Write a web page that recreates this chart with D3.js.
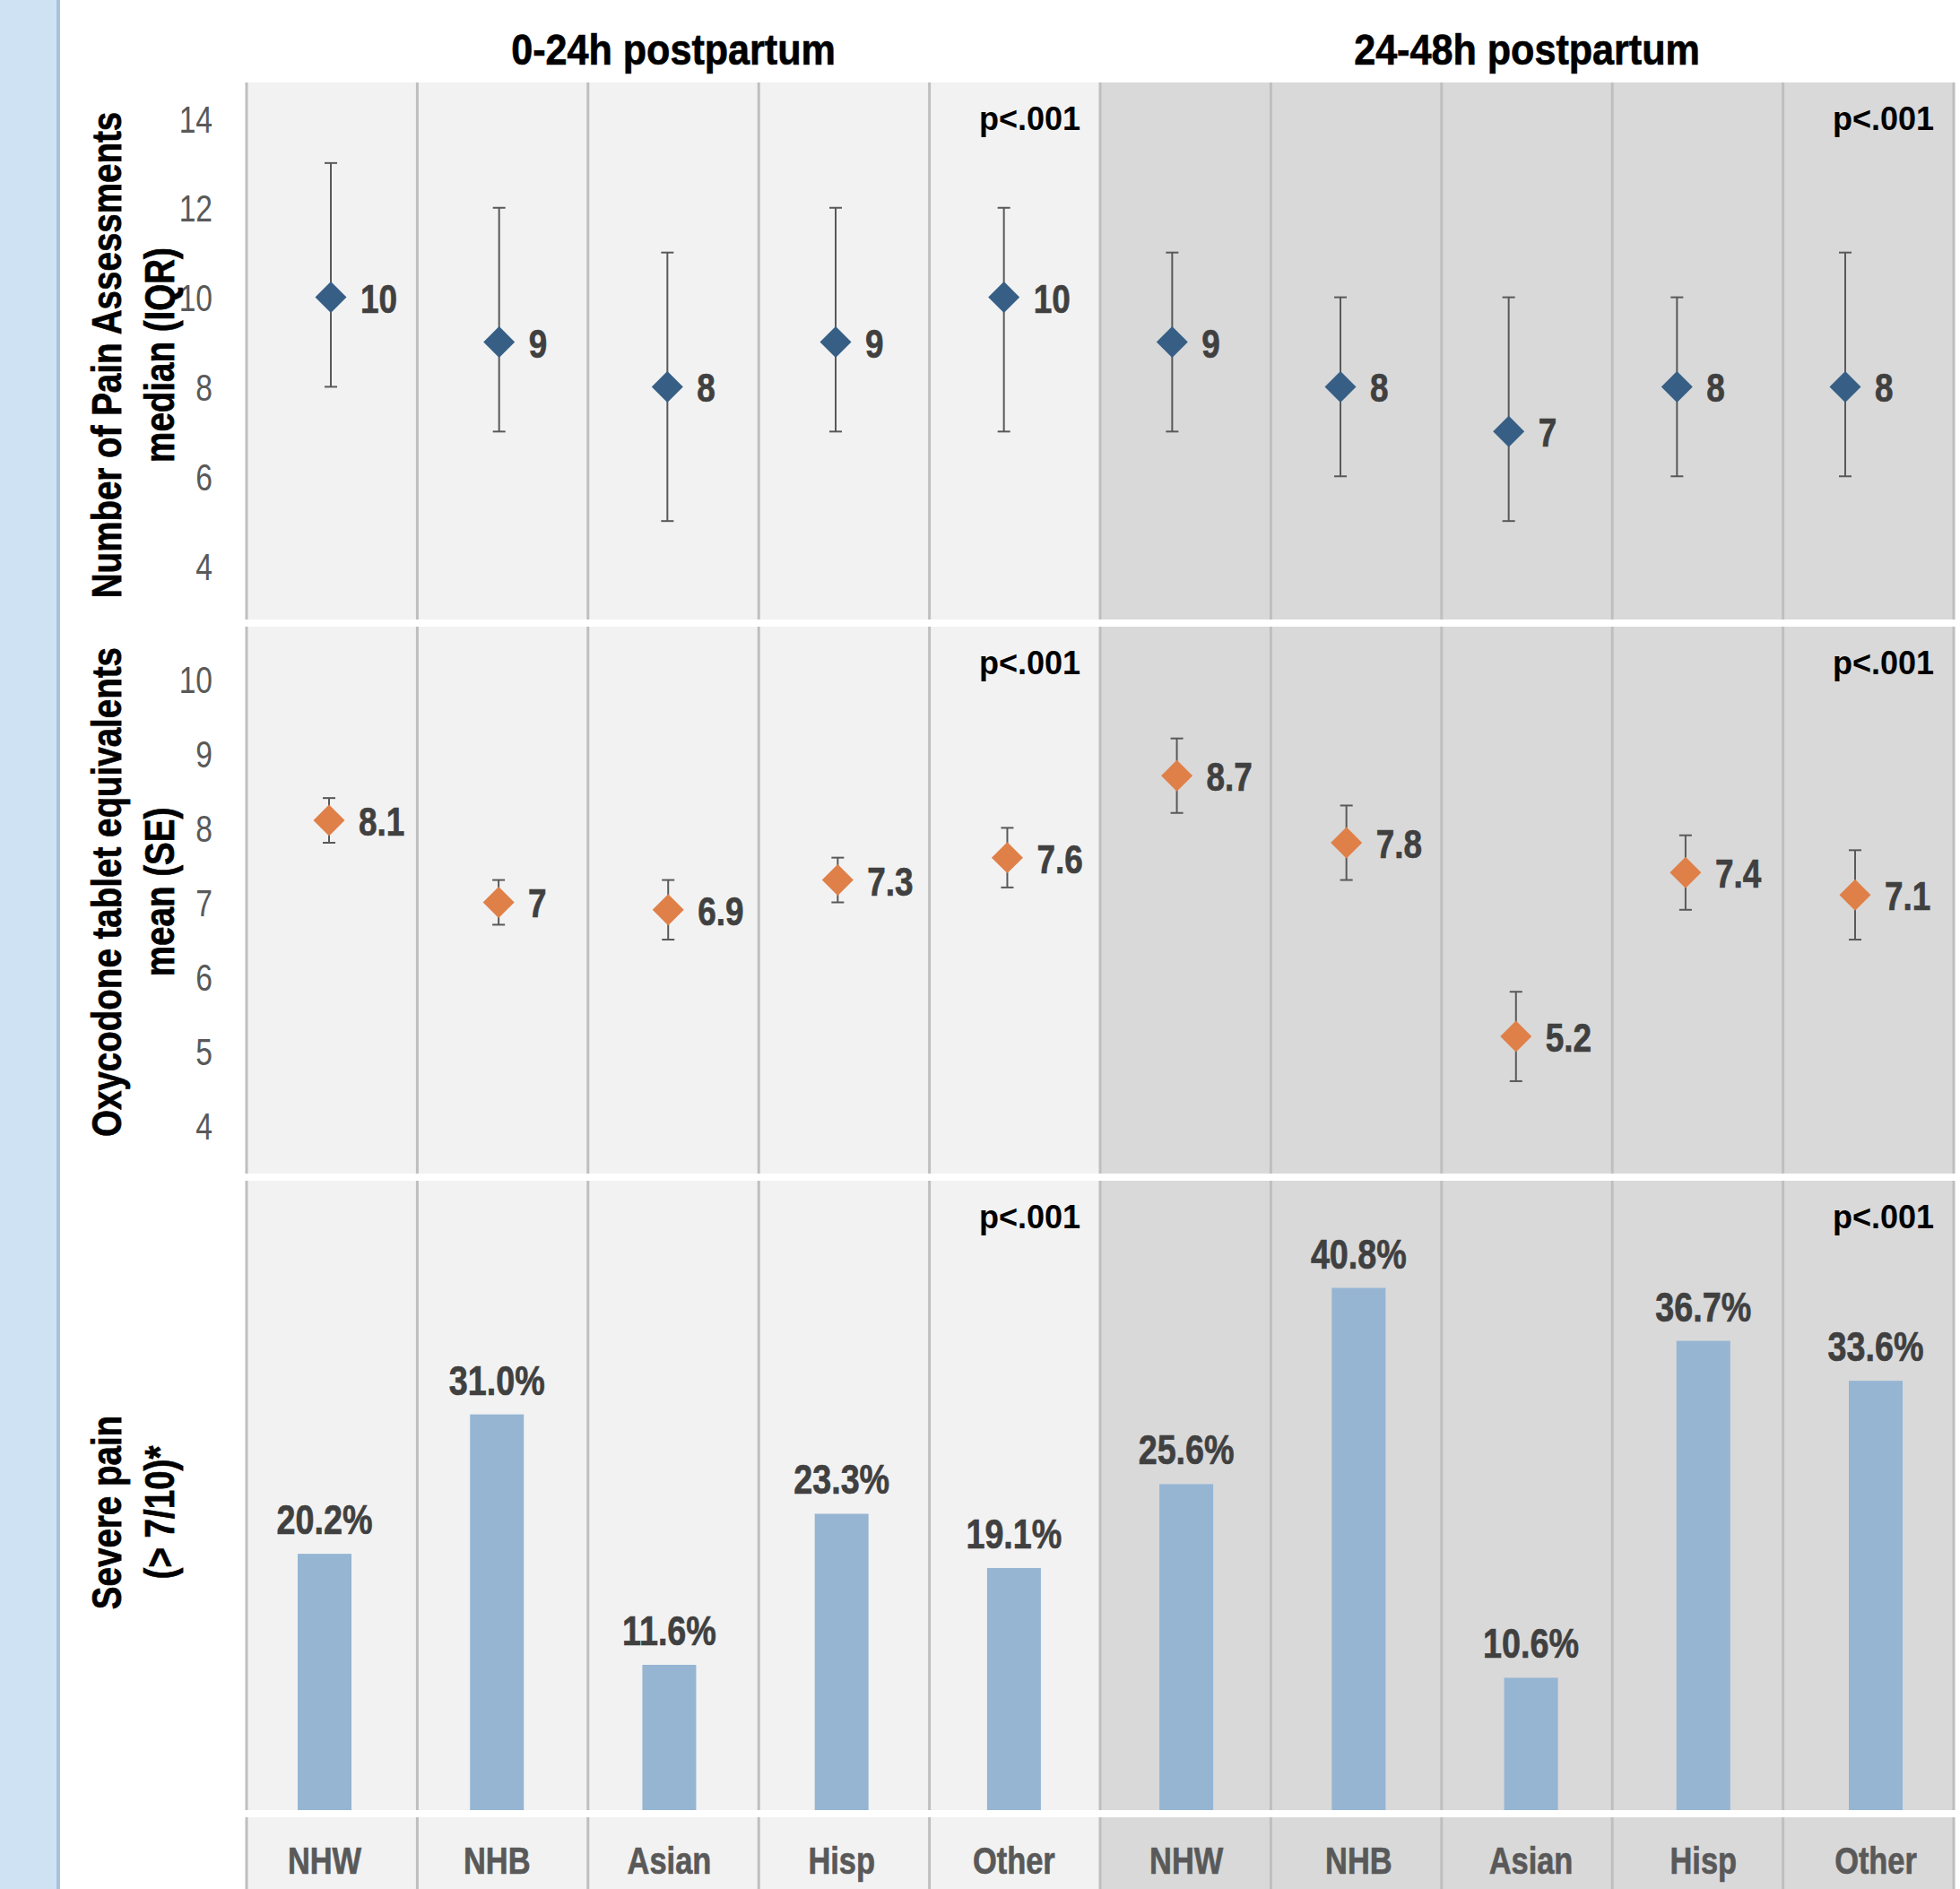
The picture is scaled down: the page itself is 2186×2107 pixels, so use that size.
<!DOCTYPE html>
<html>
<head>
<meta charset="utf-8">
<script src="https://cdn.jsdelivr.net/npm/d3@7"></script>
<style>
  html, body { margin: 0; padding: 0; background: #fff; }
  svg { display: block; }
</style>
</head>
<body>
<svg id="chart" width="2186" height="2107"></svg>
<script>
// ---- data ----
const periods = ["0-24h postpartum", "24-48h postpartum"];
const groups = ["NHW", "NHB", "Asian", "Hisp", "Other"];
const pValues = ["p<.001", "p<.001"];

// number of pain assessments, median (IQR)
const assessMedian = [10, 9, 8, 9, 10, 9, 8, 7, 8, 8];
const assessQ1 = [8, 7, 5, 7, 7, 7, 6, 5, 6, 6];
const assessQ3 = [13, 12, 11, 12, 12, 11, 10, 10, 10, 11];
const assessTicks = [4, 6, 8, 10, 12, 14];

// oxycodone tablet equivalents, mean (SE)
const oxyMean = [8.1, 7, 6.9, 7.3, 7.6, 8.7, 7.8, 5.2, 7.4, 7.1];
const oxySE = [0.3, 0.3, 0.4, 0.3, 0.4, 0.5, 0.5, 0.6, 0.5, 0.6];
const oxyTicks = [4, 5, 6, 7, 8, 9, 10];

// severe pain (> 7/10), percent
const severePct = [20.2, 31.0, 11.6, 23.3, 19.1, 25.6, 40.8, 10.6, 36.7, 33.6];

const axisTitles = [
  ["Number of Pain Assessments", "median (IQR)"],
  ["Oxycodone tablet equivalents", "mean (SE)"],
  ["Severe pain", "(> 7/10)*"]
];

// ---- layout ----
const W = 2186, H = 2107;
const plotL = 275, plotR = 2179;
const panels = [
  { top: 92, bottom: 691, titleY: 396 },
  { top: 699, bottom: 1309, titleY: 995 },
  { top: 1317, bottom: 2019, titleY: 1687 },
  { top: 2027, bottom: H }
];

// no Arial Narrow here, so squeeze Liberation Sans horizontally
const SANS = '"Liberation Sans", Arial, sans-serif';
const squeeze = (x, y, s) => `translate(${x},${y}) scale(${s},1)`;

const lightBg = "#f2f2f2", darkBg = "#d9d9d9", gridColor = "#bfbfbf";
const blueMark = "#375f85", orangeMark = "#df8049", barColor = "#95b5d3";
const labelColor = "#404040", tickColor = "#595959", errColor = "#595959";

const idx = d3.range(periods.length * groups.length);
const catLabel = i => groups[i % groups.length];
const periodOf = i => Math.floor(i / groups.length);

const svg = d3.select("#chart")
  .attr("font-family", SANS);

// heavier bold, closer to Arial Narrow Bold
const heavy = (sel, color) => sel
  .attr("font-weight", "bold")
  .attr("fill", color)
  .attr("stroke", color)
  .attr("stroke-width", 0.7);

// ---- scales ----
const colX = d3.scaleBand().domain(idx).range([plotL, plotR]);
const xAssess = d3.scalePoint().domain(idx).range([369, 2058]);
const xOxy = d3.scalePoint().domain(idx).range([367, 2069]);
const xBar = d3.scalePoint().domain(idx).range([362, 2092]);

const yAssess = d3.scaleLinear().domain([2.8, 14.8]).range([panels[0].bottom, panels[0].top]);
const yOxy = d3.scaleLinear().domain([3.36, 10.7]).range([panels[1].bottom, panels[1].top]);
const yPct = d3.scaleLinear().domain([0, 49.1]).range([2024, panels[2].top]);

// ---- left strip ----
svg.append("rect").attr("x", 0).attr("y", 0).attr("width", 63).attr("height", H).attr("fill", "#cfe2f3");
svg.append("rect").attr("x", 63).attr("y", 0).attr("width", 4).attr("height", H).attr("fill", "#a7c3de");

// ---- panel backgrounds ----
const bg = svg.append("g").attr("class", "backgrounds");
panels.forEach(p => {
  bg.append("g")
    .selectAll("rect")
    .data(idx)
    .join("rect")
    .attr("x", d => colX(d))
    .attr("y", p.top)
    .attr("width", colX.bandwidth())
    .attr("height", p.bottom - p.top)
    .attr("fill", d => periodOf(d) === 0 ? lightBg : darkBg);
});

// ---- column lines ----
const boundaries = idx.map(d => colX(d)).concat([plotR]);
panels.forEach(p => {
  bg.append("g")
    .selectAll("line")
    .data(boundaries)
    .join("line")
    .attr("x1", d => d).attr("x2", d => d)
    .attr("y1", p.top).attr("y2", p.bottom)
    .attr("stroke", gridColor)
    .attr("stroke-width", 3);
});

// ---- period titles ----
svg.append("g")
  .selectAll("text")
  .data(periods)
  .join("text")
  .attr("transform", (d, p) =>
    squeeze((colX(p * 5) + colX(p * 5 + 4) + colX.bandwidth()) / 2, 72, 0.88))
  .attr("text-anchor", "middle")
  .attr("font-size", 49)
  .call(heavy, "#000")
  .text(d => d);

// ---- panel 3: bars ----
const bars = svg.append("g").attr("class", "bars");
bars.selectAll("rect")
  .data(idx)
  .join("rect")
  .attr("x", d => xBar(d) - 30)
  .attr("y", d => yPct(severePct[d]))
  .attr("width", 60)
  .attr("height", d => panels[2].bottom - yPct(severePct[d]))
  .attr("fill", barColor);

bars.selectAll("text")
  .data(idx)
  .join("text")
  .attr("transform", d => squeeze(xBar(d), yPct(severePct[d]) - 22, 0.82))
  .attr("text-anchor", "middle")
  .attr("font-size", 46)
  .call(heavy, labelColor)
  .text(d => severePct[d].toFixed(1) + "%");

// ---- category labels ----
svg.append("g")
  .selectAll("text")
  .data(idx)
  .join("text")
  .attr("transform", d => squeeze(xBar(d), 2090, 0.8))
  .attr("text-anchor", "middle")
  .attr("font-size", 43)
  .call(heavy, tickColor)
  .text(d => catLabel(d));

// ---- y axes ----
function drawAxis(scale, ticks) {
  const g = svg.append("g")
    .attr("transform", "translate(237,0)")
    .call(d3.axisLeft(scale).tickValues(ticks).tickSize(0).tickPadding(0));
  g.select(".domain").remove();
  g.attr("font-family", null).attr("font-size", null);
  g.selectAll("text")
    .attr("font-size", 42)
    .attr("fill", tickColor)
    .attr("dy", "0.36em")
    .attr("transform", "scale(0.8,1)");
}
drawAxis(yAssess, assessTicks);
drawAxis(yOxy, oxyTicks);

// ---- axis titles ----
axisTitles.forEach((lines, k) => {
  const g = svg.append("g")
    .attr("transform", `translate(0,${panels[k].titleY}) rotate(-90)`);
  g.selectAll("text")
    .data(lines)
    .join("text")
    .attr("transform", (d, i) => squeeze(0, i === 0 ? 135 : 194, 0.82))
    .attr("text-anchor", "middle")
    .attr("font-size", 47)
    .call(heavy, "#000")
    .text(d => d);
});

// ---- p-values ----
[0, 1, 2].forEach(k => {
  svg.append("g")
    .selectAll("text")
    .data(pValues)
    .join("text")
    .attr("x", (d, p) => colX(p * 5 + 4) + colX.bandwidth() - 22)
    .attr("y", panels[k].top + 53)
    .attr("text-anchor", "end")
    .attr("font-weight", "bold")
    .attr("font-size", 36)
    .attr("fill", "#000")
    .text(d => d);
});

// ---- point + error bar panels ----
const diamond = d3.symbol().type(d3.symbolSquare).size(612);

function drawPoints(x, y, center, lo, hi, color) {
  const g = svg.append("g");
  const pts = g.selectAll("g")
    .data(idx)
    .join("g")
    .attr("transform", d => `translate(${x(d)},0)`);

  pts.append("line")
    .attr("x1", 0).attr("x2", 0)
    .attr("y1", d => y(lo[d])).attr("y2", d => y(hi[d]))
    .attr("stroke", errColor).attr("stroke-width", 2);
  pts.append("line")
    .attr("x1", -7).attr("x2", 7)
    .attr("y1", d => y(lo[d])).attr("y2", d => y(lo[d]))
    .attr("stroke", errColor).attr("stroke-width", 2);
  pts.append("line")
    .attr("x1", -7).attr("x2", 7)
    .attr("y1", d => y(hi[d])).attr("y2", d => y(hi[d]))
    .attr("stroke", errColor).attr("stroke-width", 2);

  pts.append("path")
    .attr("d", diamond)
    .attr("transform", d => `translate(0,${y(center[d])}) rotate(45)`)
    .attr("fill", color);

  pts.append("text")
    .attr("transform", d => squeeze(33, y(center[d]) + 17, 0.82))
    .attr("font-size", 45)
    .call(heavy, labelColor)
    .text(d => String(center[d]));
}

drawPoints(xAssess, yAssess, assessMedian, assessQ1, assessQ3, blueMark);
drawPoints(xOxy, yOxy, oxyMean,
  oxyMean.map((m, i) => +(m - oxySE[i]).toFixed(2)),
  oxyMean.map((m, i) => +(m + oxySE[i]).toFixed(2)),
  orangeMark);
</script>
</body>
</html>
